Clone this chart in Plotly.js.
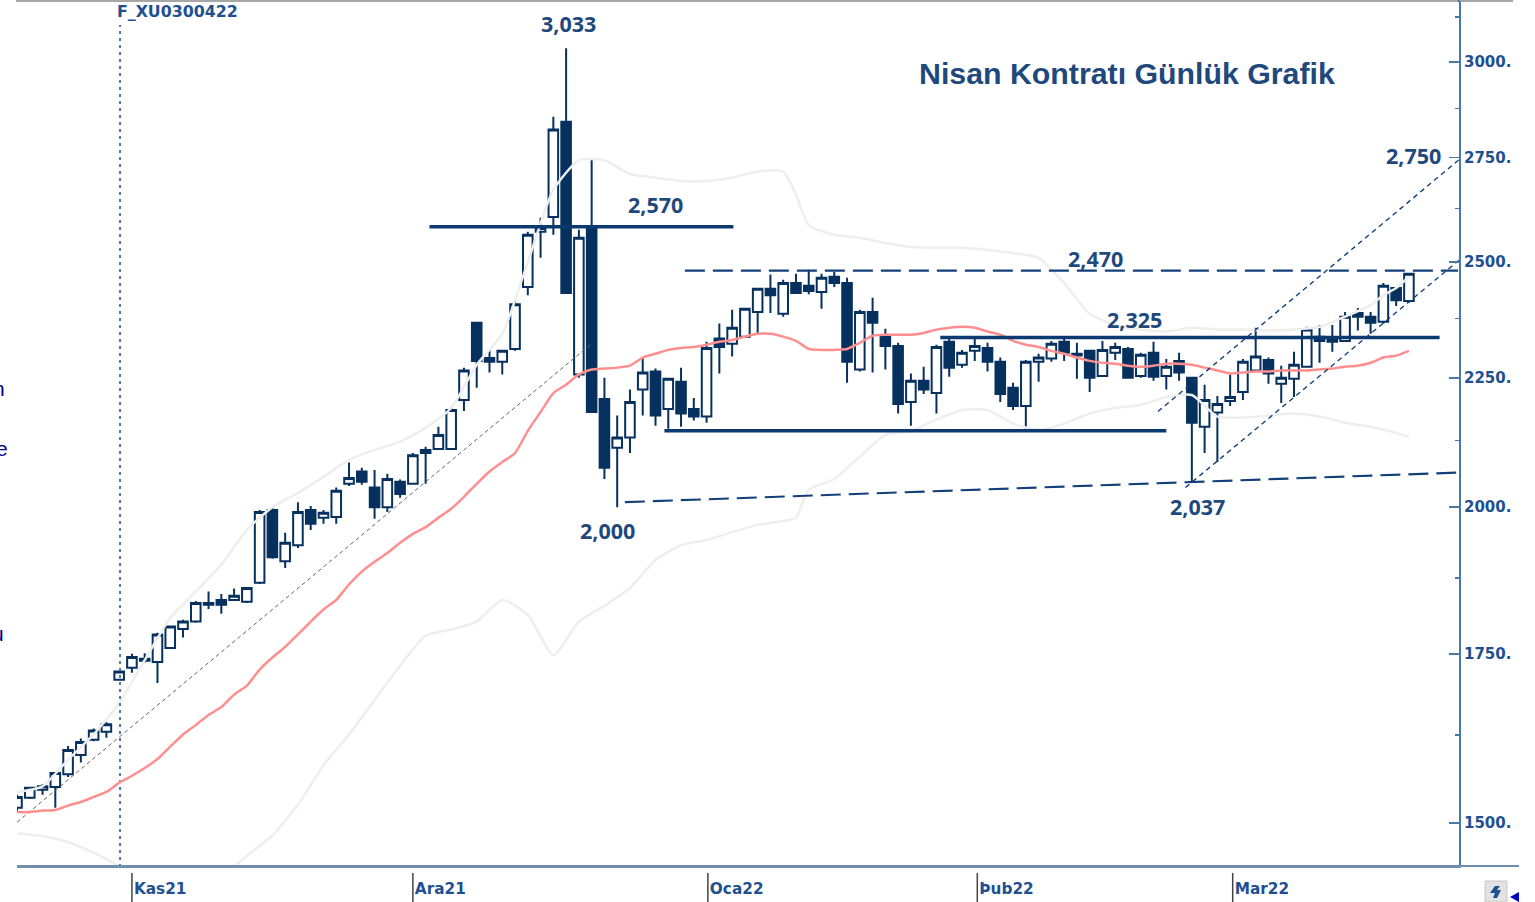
<!DOCTYPE html>
<html><head><meta charset="utf-8">
<script src="https://cdn.plot.ly/plotly-3.0.1.min.js"></script>
<style>html,body{margin:0;padding:0;background:#fff;overflow:hidden}</style></head>
<body><div id="chart" style="width:1535px;height:902px"></div>
<script>
const openPrices=[1521,1535,1546,1550,1568,1596,1618,1630,1709,1728,
1742,1737,1759,1790,1802,1833,1838,1838,1835,1867,
1995,1904,1932,1995,1981,1982,2043,2066,2036,2000,
2047,2043,2107,2109,2109,2205,2366,2291,2283,2310,
2444,2570,2605,2841,2257,2579,2207,2111,2131,2226,
2263,2187,2242,2187,2172,2332,2321,2336,2389,2440,
2385,2453,2447,2433,2467,2453,2267,2389,2338,2316,
2201,2244,2219,2325,2277,2306,2312,2283,2230,2193,
2283,2290,2325,2300,2306,2254,2302,2310,2254,2302,
2254,2285,2250,2152,2180,2203,2221,2265,2287,2238,
2248,2273,2336,2329,2327,2387,2379,2368,2442,2413];
const closePrices=[1536,1549,1551,1570,1603,1615,1632,1641,1722,1745,
1739,1781,1794,1802,1833,1830,1830,1845,1858,1991,
1911,1936,1991,1970,1990,2030,2054,2047,2000,2052,
2024,2097,2101,2136,2185,2265,2285,2283,2306,2406,
2563,2579,2821,2431,2556,2181,2073,2131,2201,2261,
2174,2248,2178,2172,2312,2314,2355,2396,2440,2426,
2453,2431,2435,2465,2453,2283,2389,2366,2316,2197,
2244,2226,2314,2271,2302,2316,2283,2217,2193,2283,
2292,2321,2302,2296,2250,2308,2314,2250,2298,2252,
2273,2261,2160,2205,2197,2211,2283,2294,2259,2250,
2277,2351,2327,2325,2379,2379,2366,2447,2415,2474];
const highPrices=[1539,1550,1554,1571,1609,1620,1635,1644,1723,1750,
1751,1784,1795,1805,1836,1852,1848,1857,1858,1995,
1999,1954,2009,2002,1995,2036,2083,2073,2069,2062,
2051,2101,2113,2152,2191,2271,2366,2308,2308,2417,
2570,2603,2854,3038,2575,2749,2250,2174,2226,2292,
2269,2250,2271,2209,2325,2364,2394,2398,2442,2472,
2460,2474,2483,2474,2478,2465,2394,2420,2353,2323,
2259,2273,2319,2334,2308,2332,2323,2292,2240,2287,
2300,2327,2332,2323,2308,2327,2323,2314,2302,2325,
2289,2302,2252,2236,2213,2257,2289,2355,2292,2275,
2304,2357,2361,2361,2389,2398,2389,2453,2444,2476];
const lowPrices=[1515,1533,1539,1521,1564,1585,1616,1621,1708,1720,
1736,1704,1758,1776,1800,1823,1815,1836,1833,1865,
1908,1892,1927,1959,1970,1970,2039,2041,1979,1991,
2017,2041,2043,2107,2107,2183,2230,2261,2257,2306,
2426,2510,2563,2431,2250,2181,2052,2000,2101,2174,
2154,2148,2152,2164,2160,2259,2294,2334,2344,2387,
2379,2431,2428,2396,2444,2240,2263,2261,2267,2178,
2154,2217,2178,2252,2271,2285,2263,2201,2185,2144,
2242,2283,2285,2248,2221,2252,2287,2248,2250,2244,
2226,2244,2047,2101,2084,2193,2205,2263,2238,2199,
2211,2271,2281,2304,2325,2349,2342,2364,2402,2409];
const movingAverage=[1515,1515,1517,1518,1524,1529,1536,1543,1556,1566,
1577,1590,1608,1626,1640,1655,1667,1686,1700,1725,
1744,1761,1781,1802,1822,1838,1864,1886,1903,1918,
1936,1952,1964,1981,1997,2019,2043,2066,2084,2101,
2144,2181,2219,2236,2257,2267,2269,2271,2275,2292,
2300,2308,2312,2314,2319,2325,2329,2336,2342,2342,
2336,2327,2310,2308,2308,2310,2323,2338,2340,2340,
2340,2344,2351,2355,2357,2355,2347,2340,2327,2319,
2314,2306,2300,2292,2285,2281,2279,2275,2273,2275,
2279,2279,2277,2271,2265,2259,2261,2263,2263,2265,
2265,2265,2267,2269,2273,2275,2281,2292,2296,2306];
const upperIdx=[0,2,4,6,8,10,12,14,16,18,20,22,24,26,28,30,32,34,36,38,40,42,44,46,48,50,52,54,56,58,60,61,62,64,66,68,70,72,74,76,78,80,82,84,86,88,90,92,94,96,98,100,102,104,106,107,108,109];
const upperBand=[1543,1551,1589,1626,1673,1740,1808,1852,1898,1959,2000,2026,2056,2088,2107,2123,2150,2189,2277,2342,2500,2670,2743,2743,2709,2700,2692,2692,2700,2715,2715,2658,2586,2563,2556,2544,2535,2533,2533,2528,2521,2510,2453,2385,2361,2351,2347,2355,2351,2351,2349,2351,2357,2379,2404,2426,2442,2467];
const lowerIdxA=[0,2,4,6,8];
const lowerBandA=[1486,1482,1474,1460,1442];
const lowerIdxB=[17,18,20,22,24,26,28,30,32,34,36,38,40,42,44,46,48,50,52,54,56,58,60,61,62,64,66,68,70,72,74,76,78,80,82,84,86,88,90,92,94,96,98,100,102,104,106,108,109];
const lowerBandB=[1441,1456,1483,1525,1581,1626,1678,1731,1779,1789,1802,1838,1813,1748,1802,1828,1858,1906,1932,1941,1955,1968,1975,1981,2032,2052,2094,2136,2144,2166,2185,2185,2158,2146,2158,2178,2189,2195,2211,2215,2172,2170,2174,2178,2172,2160,2152,2140,2132];
const xTickVals=[9,31,54.1,75.2,95.2];
const xTickText=["Kas21","Ara21","Oca22","Þub22","Mar22"];
const yTickVals=[1500,1750,2000,2250,2500,2750,3000];
const yTickText=["1500.","1750.","2000.","2250.","2500.","2750.","3000."];
const yMinorVals=[1625,1875,2125,2375,2625,2875,3125];
const priceLabels=[["3,033",568,23],["2,570",655,204],["2,470",1095,258],["2,325",1134,319],["2,750",1413,156],["2,000",607,530],["2,037",1197,507]];

const idx=openPrices.map((_,i)=>i);
const navy="#06315f", labelBlue="#1f497d", axisBlue="#4a78a8", tickBlue="#1f5090";
const L=17,R=1459,T=2,B=866;
const px=x=>(x-L)/(R-L), py=y=>(B-y)/(B-T);
const ln=(x,y,color,width,dash,smooth)=>({type:"scatter",mode:"lines",x,y,line:{color,width,dash:dash||"solid",shape:smooth?"spline":"linear",smoothing:smooth?0.6:undefined},hoverinfo:"skip",showlegend:false});

const traces=[
 ln(upperIdx,upperBand,"#eeeeee",2.5,null,true),
 ln(lowerIdxA,lowerBandA,"#eeeeee",2.5,null,true),
 ln(lowerIdxB,lowerBandB,"#eeeeee",2.5,null,true),
 ln([0,44.9],[1501,2319],"#666666",1,"4px,3px"),
 ln([8.07,8.07],[1441,3103],"#4a78a8",2,"3px,4px"),
 {type:"candlestick",x:idx,open:openPrices,high:highPrices,low:lowPrices,close:closePrices,whiskerwidth:0,showlegend:false,
  increasing:{line:{color:navy,width:2},fillcolor:"#ffffff"},
  decreasing:{line:{color:navy,width:2},fillcolor:navy}},
 ln(idx,movingAverage,"#ff8f8f",2.5,null,true),
 ln([32.3,56.1],[2582,2582],"#0b3a70",3.5),
 ln([50.7,90],[2144,2144],"#0b3a70",3.5),
 ln([72.3,111.4],[2334,2334],"#0b3a70",3.5),
 ln([52.3,112.85],[2481,2481],"#14407a",2.2,"20px,8px"),
 ln([47.6,112.7],[2009,2064],"#14407a",2.2,"20px,8px"),
 ln([91.5,112.9],[2036,2504],"#14407a",1.4,"5px,4px"),
 ln([89.35,112.9],[2182,2744],"#14407a",1.4,"5px,4px")
];

const shapes=[
 {type:"rect",xref:"paper",yref:"paper",x0:px(16),x1:px(1513),y0:py(0),y1:py(2),fillcolor:"#a6a6a6",line:{width:0}},
 {type:"line",xref:"paper",yref:"paper",x0:px(R),x1:px(R),y0:py(0),y1:py(2),line:{color:axisBlue,width:2}},
 {type:"line",xref:"paper",yref:"paper",x0:px(L),x1:px(1519),y0:py(866),y1:py(866),line:{color:"#6f8fae",width:2}},
 {type:"rect",xref:"paper",yref:"paper",x0:px(1485),x1:px(1507),y0:py(881),y1:py(902),fillcolor:"#e2e2e2",line:{color:"#c8c8c8",width:1}},
 {type:"path",xref:"paper",yref:"paper",path:`M${px(1490)},${py(893)} L${px(1495)},${py(886)} L${px(1500)},${py(886)} L${px(1497)},${py(890)} L${px(1501)},${py(890)} L${px(1497)},${py(898)} L${px(1493)},${py(898)} L${px(1495)},${py(893)} Z`,fillcolor:"#1f5090",line:{width:0}},
 {type:"path",xref:"paper",yref:"paper",path:`M${px(1510)},${py(897)} L${px(1519)},${py(892)} L${px(1519)},${py(902)} Z`,fillcolor:"#0000c8",line:{width:0}}
].concat(xTickVals.map(v=>({type:"line",xref:"x",yref:"paper",x0:v,x1:v,y0:py(873),y1:py(902),line:{color:"#444444",width:1.5}})));

const annotations=priceLabels.map(([t,x,y])=>({text:"<b>"+t+"</b>",xref:"paper",yref:"paper",x:px(x),y:py(y),xanchor:"center",yanchor:"middle",showarrow:false,font:{family:"Open Sans",size:21.5,color:labelBlue}}))
.concat([
 {text:"<b>Nisan Kontratı Günlük Grafik</b>",xref:"paper",yref:"paper",x:px(1127),y:py(73),xanchor:"center",yanchor:"middle",showarrow:false,font:{family:"Liberation Sans",size:30.3,color:labelBlue}},
 {text:"<b>F_XU0300422</b>",xref:"paper",yref:"paper",x:px(115),y:py(12),xanchor:"left",yanchor:"middle",showarrow:false,font:{family:"DejaVu Sans",size:15.8,color:tickBlue}},
 {text:"n",xref:"paper",yref:"paper",x:px(7),y:py(388),xanchor:"right",yanchor:"middle",showarrow:false,font:{family:"Liberation Sans",size:21,color:"#00008b"}},
 {text:"e",xref:"paper",yref:"paper",x:px(10),y:py(448),xanchor:"right",yanchor:"middle",showarrow:false,font:{family:"Liberation Sans",size:21,color:"#00008b"}},
 {text:"u",xref:"paper",yref:"paper",x:px(6),y:py(633),xanchor:"right",yanchor:"middle",showarrow:false,font:{family:"Liberation Sans",size:21,color:"#00008b"}}
]);

const layout={
 width:1535,height:902,paper_bgcolor:"#fff",plot_bgcolor:"#fff",showlegend:false,
 margin:{l:L,r:1535-R,t:T,b:902-B,pad:0},boxgap:0.25,boxgroupgap:0,hovermode:false,
 xaxis:{type:"linear",range:[0,(R-L)/12.77],rangeslider:{visible:false},showgrid:false,zeroline:false,showline:true,linecolor:"#6f8fae",linewidth:2,
  tickmode:"array",tickvals:xTickVals,ticktext:xTickText,ticks:"",ticklabelposition:"outside right",ticklabelstandoff:8,ticklabelshift:1,
  tickfont:{family:"DejaVu Sans",size:15.3,color:tickBlue,weight:700}},
 yaxis:{type:"log",side:"right",range:[3.15908,3.50085],showgrid:false,zeroline:false,showline:true,linecolor:axisBlue,linewidth:2,
  tickmode:"array",tickvals:yTickVals,ticktext:yTickText,ticks:"inside",ticklen:10,tickwidth:1.5,tickcolor:axisBlue,
  minor:{tickmode:"array",tickvals:yMinorVals,ticks:"inside",ticklen:4,tickwidth:1.5,tickcolor:axisBlue,showgrid:false},
  tickfont:{family:"DejaVu Sans",size:15,color:tickBlue,weight:700}},
 shapes,annotations
};
Plotly.newPlot("chart",traces,layout,{displayModeBar:false,staticPlot:true});
</script></body></html>
